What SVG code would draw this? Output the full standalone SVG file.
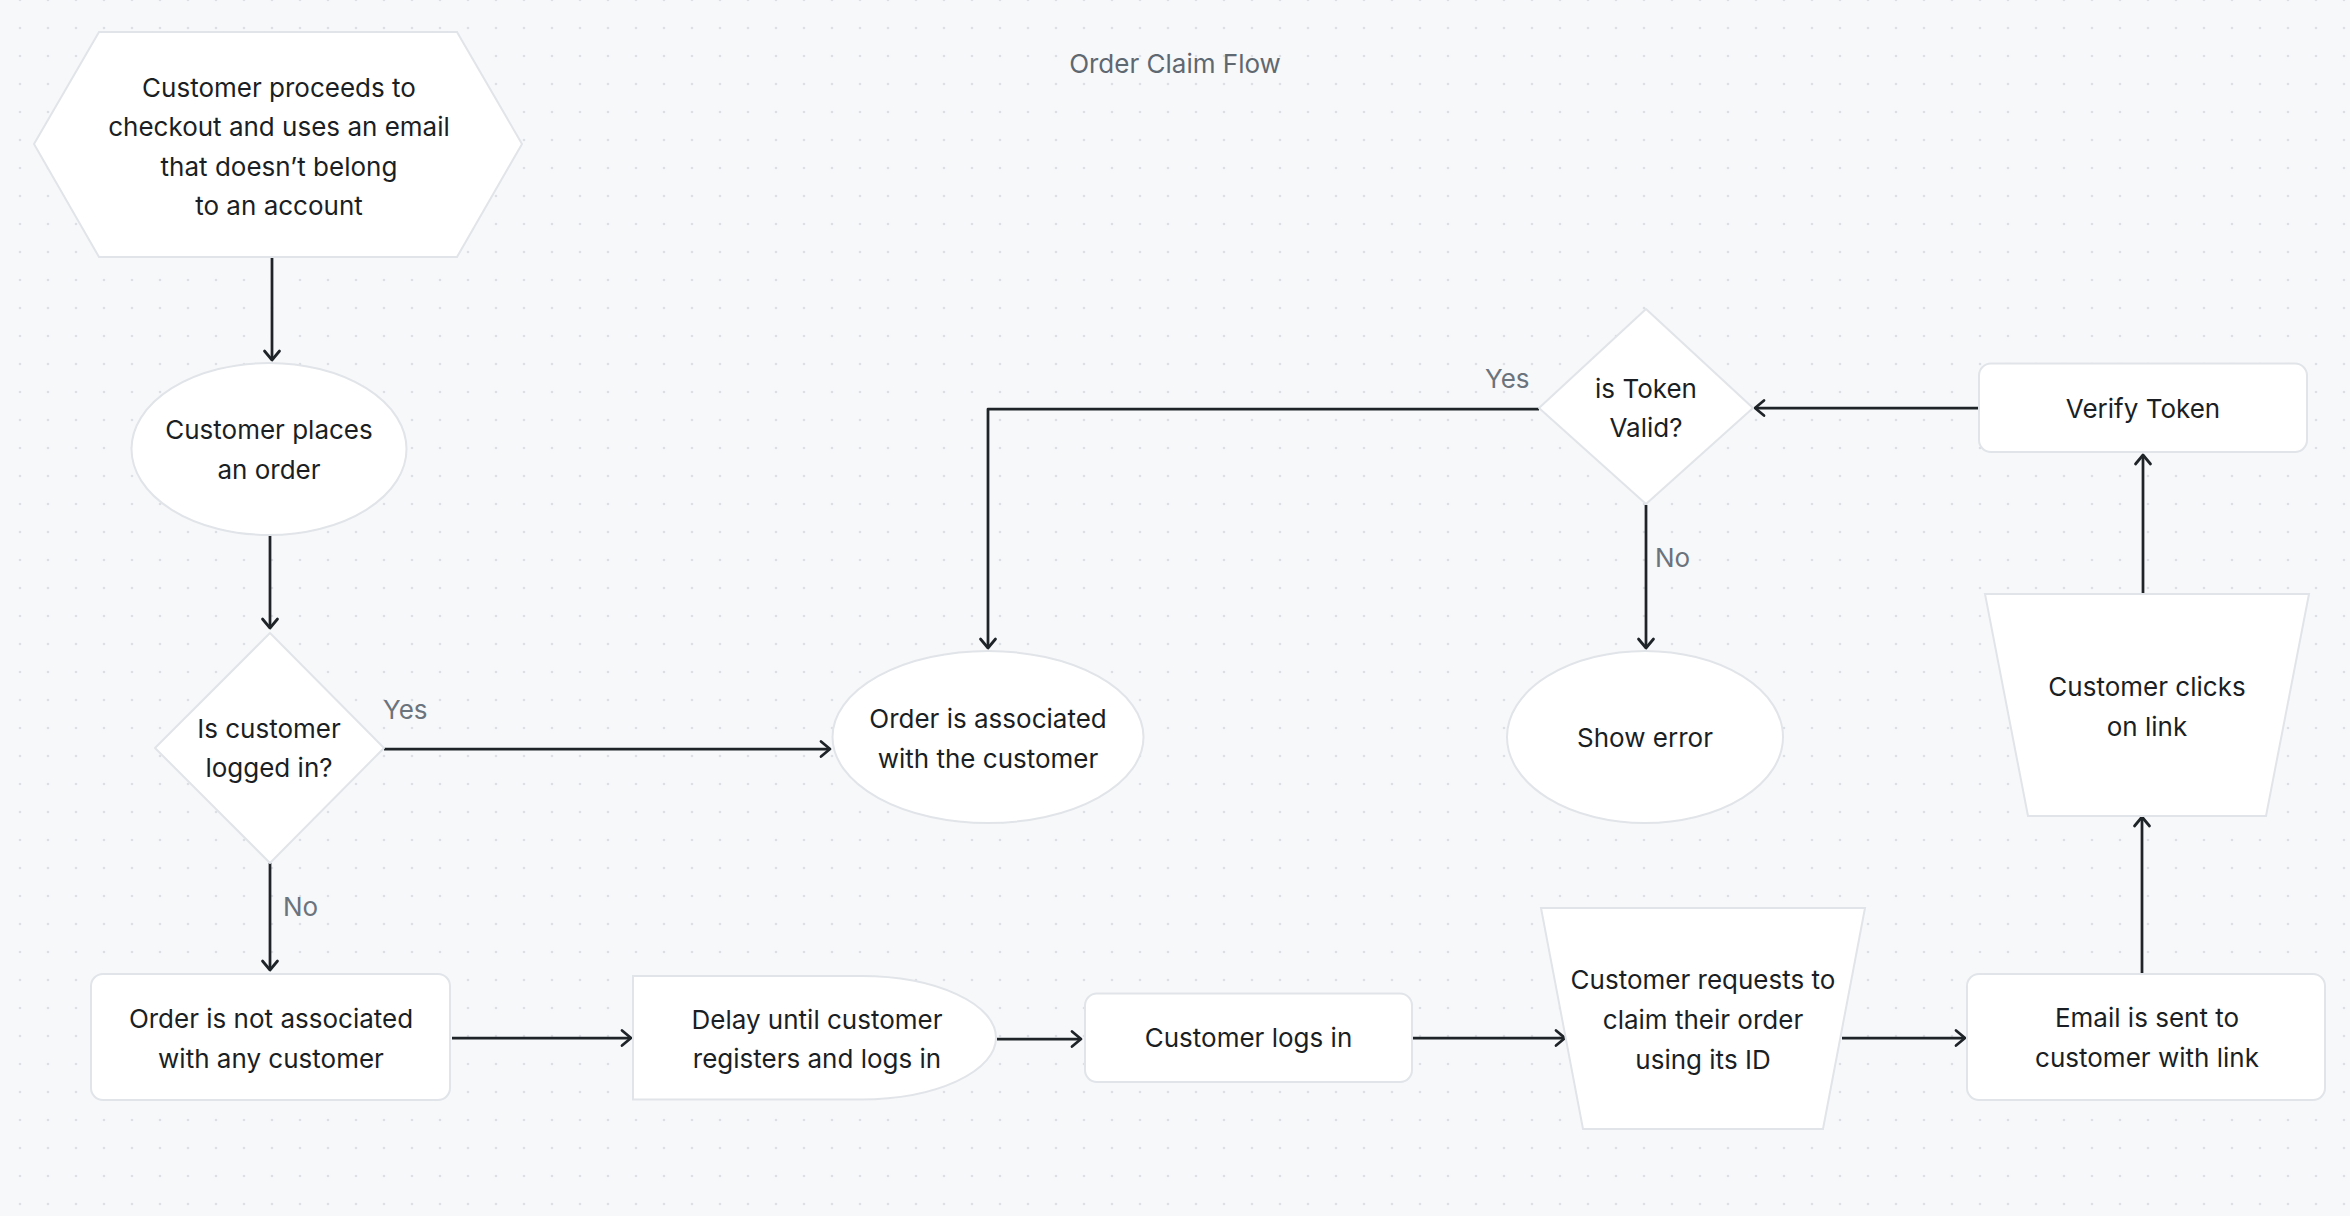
<svg xmlns="http://www.w3.org/2000/svg" width="2350" height="1216" viewBox="0 0 2350 1216">
  <defs>
    <pattern id="dots" x="6" y="-14" width="28" height="28" patternUnits="userSpaceOnUse">
      <circle cx="14" cy="14" r="1.3" fill="#dcdfe3"/>
    </pattern>
    <marker id="arr" viewBox="-12 -10 14 20" refX="0" refY="0" markerWidth="14" markerHeight="20" markerUnits="userSpaceOnUse" orient="auto">
      <path d="M-9,-7.5 L0,0 L-9,7.5" fill="none" stroke="#1f2429" stroke-width="2.75" stroke-linecap="round" stroke-linejoin="round"/>
    </marker>
    <style>
      .shape { fill: #ffffff; stroke: #e1e4e8; stroke-width: 2; }
      .txt { font-family: Inter, "Noto Sans", "Liberation Sans", sans-serif; font-size: 26px; fill: #1b1f24; text-anchor: middle; }
      .lbl { font-family: Inter, "Noto Sans", "Liberation Sans", sans-serif; font-size: 26px; fill: #6b737c; }
      .title { font-family: Inter, "Noto Sans", "Liberation Sans", sans-serif; font-size: 26px; fill: #5f6870; text-anchor: middle; }
      .conn { fill: none; stroke: #1f2429; stroke-width: 2.75; marker-end: url(#arr); }
    </style>
  </defs>

  <rect x="0" y="0" width="2350" height="1216" fill="#f7f8fa"/>
  <rect x="0" y="0" width="2350" height="1216" fill="url(#dots)"/>

  <text class="title" x="1175" y="73">Order Claim Flow</text>

  <g id="connectors">
    <path class="conn" d="M272 257 V360"/>
    <path class="conn" d="M270 535 V628"/>
    <path class="conn" d="M384 749 H830"/>
    <path class="conn" d="M270 863 V970"/>
    <path class="conn" d="M452 1038 H631"/>
    <path class="conn" d="M997 1039 H1081"/>
    <path class="conn" d="M1412 1038 H1565"/>
    <path class="conn" d="M1842 1038 H1965"/>
    <path class="conn" d="M2142 974 V817"/>
    <path class="conn" d="M2143 593 V455"/>
    <path class="conn" d="M1979 408 H1755"/>
    <path class="conn" d="M1646 505 V648"/>
    <path class="conn" d="M1539 409 H988 V648" stroke-linejoin="round"/>
    <text class="lbl" x="383" y="719">Yes</text>
    <text class="lbl" x="283" y="916">No</text>
    <text class="lbl" x="1485" y="388">Yes</text>
    <text class="lbl" x="1655" y="567">No</text>
  </g>

  <g id="node-start">
    <polygon class="shape" points="34,144 99,32 457,32 522,144 457,257 99,257"/>
    <text class="txt" x="279" y="97">Customer proceeds to</text>
    <text class="txt" x="279" y="136">checkout and uses an email</text>
    <text class="txt" x="279" y="176">that doesn’t belong</text>
    <text class="txt" x="279" y="215">to an account</text>
  </g>

  <g id="node-places-order">
    <ellipse class="shape" cx="269" cy="449" rx="137.5" ry="86"/>
    <text class="txt" x="269" y="439">Customer places</text>
    <text class="txt" x="269" y="479">an order</text>
  </g>

  <g id="node-logged-in">
    <polygon class="shape" points="270,633 384,748 270,863 155,748" stroke-linejoin="round"/>
    <text class="txt" x="269" y="738">Is customer</text>
    <text class="txt" x="269" y="777">logged in?</text>
  </g>

  <g id="node-associated">
    <ellipse class="shape" cx="988" cy="737" rx="155.5" ry="86"/>
    <text class="txt" x="988" y="728">Order is associated</text>
    <text class="txt" x="988" y="768">with the customer</text>
  </g>

  <g id="node-not-associated">
    <rect class="shape" x="91" y="974" width="359" height="126" rx="12"/>
    <text class="txt" x="271" y="1028">Order is not associated</text>
    <text class="txt" x="271" y="1068">with any customer</text>
  </g>

  <g id="node-delay">
    <path class="shape" d="M633 976 H861 A135 61.7 0 0 1 861 1099.4 H633 Z"/>
    <text class="txt" x="817" y="1029">Delay until customer</text>
    <text class="txt" x="817" y="1068">registers and logs in</text>
  </g>

  <g id="node-logs-in">
    <rect class="shape" x="1085" y="993.5" width="327" height="88.5" rx="12"/>
    <text class="txt" x="1248.5" y="1047">Customer logs in</text>
  </g>

  <g id="node-request-claim">
    <polygon class="shape" points="1541,908 1865,908 1823,1129 1583,1129"/>
    <text class="txt" x="1703" y="989">Customer requests to</text>
    <text class="txt" x="1703" y="1029">claim their order</text>
    <text class="txt" x="1703" y="1069">using its ID</text>
  </g>

  <g id="node-email-sent">
    <rect class="shape" x="1967" y="974" width="358" height="126" rx="12"/>
    <text class="txt" x="2147" y="1027">Email is sent to</text>
    <text class="txt" x="2147" y="1067">customer with link</text>
  </g>

  <g id="node-clicks-link">
    <polygon class="shape" points="1985,594 2309,594 2266,816 2028,816"/>
    <text class="txt" x="2147" y="696">Customer clicks</text>
    <text class="txt" x="2147" y="736">on link</text>
  </g>

  <g id="node-verify-token">
    <rect class="shape" x="1979" y="363.5" width="328" height="88.5" rx="12"/>
    <text class="txt" x="2143" y="418">Verify Token</text>
  </g>

  <g id="node-token-valid">
    <polygon class="shape" points="1646,309 1753,408 1646,504 1539,408" stroke-linejoin="round"/>
    <text class="txt" x="1646" y="398">is Token</text>
    <text class="txt" x="1646" y="437">Valid?</text>
  </g>

  <g id="node-show-error">
    <ellipse class="shape" cx="1645" cy="737" rx="138" ry="86"/>
    <text class="txt" x="1645" y="747">Show error</text>
  </g>
</svg>
